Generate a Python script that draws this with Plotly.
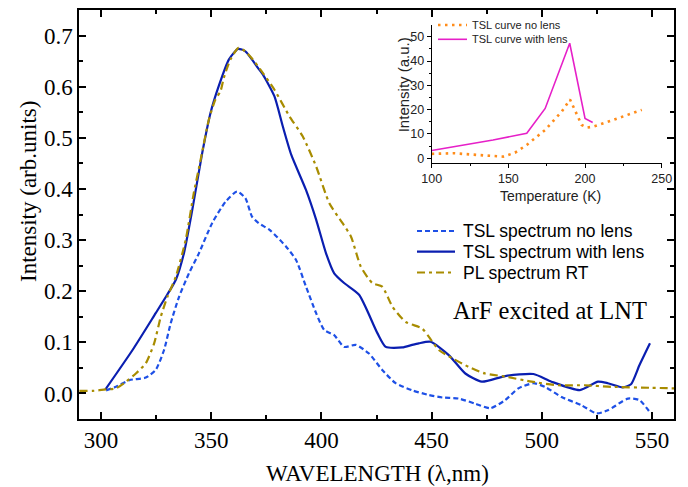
import plotly.graph_objects as go

# ---------------- main chart data ----------------
wl_nolens = [302.3, 306.8, 312.8, 320.3, 324.8, 328.6, 331.6, 335.4, 339.9, 344.4, 350.4, 356.5,
             361.7, 365.5, 368.5, 371.5, 376.5, 384.0, 388.5, 393.0, 397.6, 401.3, 405.8, 410.3,
             415.6, 421.6, 427.6, 433.7, 441.2, 448.7, 455.0, 462.3, 469.8, 476.6, 483.4, 489.4,
             496.2, 501.4, 509.0, 518.0, 524.8, 530.0, 539.1, 544.3, 548.9]
int_nolens = [0.006, 0.013, 0.026, 0.031, 0.046, 0.085, 0.137, 0.189, 0.235, 0.274, 0.333, 0.375,
              0.395, 0.382, 0.346, 0.333, 0.320, 0.287, 0.261, 0.209, 0.157, 0.124, 0.114, 0.091,
              0.095, 0.078, 0.046, 0.020, 0.006, -0.003, -0.008, -0.010, -0.020, -0.029, -0.013, 0.010,
              0.020, 0.013, -0.007, -0.023, -0.039, -0.033, -0.010, -0.013, -0.036]

wl_lens = [302.0, 314.3, 324.8, 330.0, 333.9, 337.6, 341.4, 345.9, 349.7, 353.4, 358.0, 362.2,
           365.5, 371.5, 373.4, 378.7, 382.5, 386.3, 393.0, 397.6, 402.1, 405.8, 410.3, 417.1,
           425.4, 429.2, 436.7, 441.2, 444.2, 449.5, 457.8, 465.3, 472.8, 483.4, 496.2, 504.4,
           517.3, 525.5, 530.0, 536.8, 540.5, 544.3, 549.1]
int_lens = [0.008, 0.085, 0.157, 0.193, 0.222, 0.274, 0.359, 0.470, 0.549, 0.601, 0.653, 0.674,
            0.669, 0.635, 0.624, 0.581, 0.522, 0.467, 0.398, 0.340, 0.274, 0.235, 0.216, 0.193,
            0.118, 0.091, 0.090, 0.095, 0.098, 0.101, 0.075, 0.039, 0.023, 0.034, 0.038, 0.023,
            0.0065, 0.023, 0.020, 0.012, 0.018, 0.055, 0.098]

wl_pl = [290.2, 296.2, 302.3, 306.8, 311.3, 315.8, 320.3, 324.1, 327.1, 330.1, 333.9, 338.4,
         342.1, 345.2, 348.9, 351.9, 354.2, 355.7, 358.7, 362.4, 365.5, 368.5, 373.4, 378.7,
         385.5, 391.5, 397.6, 403.6, 409.6, 413.4, 417.9, 423.1, 427.6, 432.2, 438.2, 445.7,
         448.7, 453.3, 459.3, 466.8, 474.3, 483.4, 495.4, 507.5, 519.5, 531.5, 549.6, 560.0]
int_pl = [0.005, 0.005, 0.008, 0.010, 0.023, 0.039, 0.059, 0.098, 0.150, 0.189, 0.228, 0.300,
          0.392, 0.457, 0.535, 0.575, 0.591, 0.617, 0.653, 0.676, 0.669, 0.655, 0.627, 0.594,
          0.542, 0.503, 0.444, 0.372, 0.333, 0.307, 0.248, 0.216, 0.209, 0.170, 0.140, 0.127,
          0.111, 0.085, 0.069, 0.052, 0.039, 0.033, 0.023, 0.016, 0.016, 0.013, 0.011, 0.010]

# ---------------- inset data ----------------
temp_nolens = [100, 114, 133.7, 146.7, 154.3, 162, 173.9, 184.8, 190.2, 194.6, 197.8, 201, 205.4, 218.5, 237]
tsl_nolens = [1.8, 2.1, 1.2, 0.7, 2.3, 5.5, 11.6, 19.2, 24.2, 18.5, 13.7, 12.6, 13.0, 15.8, 19.9]
temp_lens = [100, 140, 162, 174, 190, 200, 205]
tsl_lens = [3.2, 7.5, 10.3, 20.5, 47.3, 16.4, 14.7]

main_x_ticks = [300, 350, 400, 450, 500, 550]
main_y_ticks = [0.0, 0.1, 0.2, 0.3, 0.4, 0.5, 0.6, 0.7]
inset_x_ticks = [100, 150, 200, 250]
inset_y_ticks = [0, 10, 20, 30, 40, 50]

names = ["TSL spectrum no lens", "TSL spectrum with lens", "PL spectrum RT"]
inset_names = ["TSL curve no lens", "TSL curve with lens"]

C_DASH = "#1E50E6"
C_SOLID = "#0A1EB0"
C_OLIVE = "#A88C00"
C_MAG = "#E620C8"
C_ORG = "#FF8C1A"

DASH_MAIN = "5px,3px"
DASHDOT = "8px,4px,3px,4px"
DOT = "2.5px,4.5px"

SERIF = "Liberation Serif"
SANS = "Liberation Sans"

# page body has an 8px margin; the figure is sized so it fills the 688x487 window
PAGE_OFF = 8
W, H = 688 - PAGE_OFF, 487 - PAGE_OFF
# plot frame in window pixels: left 79, right 674, top 10, bottom 419
FL, FR, FT, FB = 79, 674, 10, 419
ML, MR, MT, MB = FL - PAGE_OFF, 688 - FR, FT - PAGE_OFF, 487 - FB


def px(x):
    """window pixel x -> paper x"""
    return (x - FL) / (FR - FL)


def py(y):
    """window pixel y -> paper y"""
    return (FB - y) / (FB - FT)


fig = go.Figure()
fig.add_trace(go.Scatter(x=wl_nolens, y=int_nolens, mode="lines", name=names[0],
                         line=dict(color=C_DASH, width=2.2, dash=DASH_MAIN, shape="spline", smoothing=0.6)))
fig.add_trace(go.Scatter(x=wl_lens, y=int_lens, mode="lines", name=names[1],
                         line=dict(color=C_SOLID, width=2.2, shape="spline", smoothing=0.6)))
fig.add_trace(go.Scatter(x=wl_pl, y=int_pl, mode="lines", name=names[2],
                         line=dict(color=C_OLIVE, width=2.2, dash=DASHDOT, shape="spline", smoothing=0.6)))
fig.add_trace(go.Scatter(x=temp_nolens, y=tsl_nolens, mode="lines", name=inset_names[0],
                         xaxis="x2", yaxis="y2",
                         line=dict(color=C_ORG, width=2.6, dash=DOT)))
fig.add_trace(go.Scatter(x=temp_lens, y=tsl_lens, mode="lines", name=inset_names[1],
                         xaxis="x2", yaxis="y2",
                         line=dict(color=C_MAG, width=1.6)))

main_axis = dict(showline=True, linecolor="black", linewidth=1.5, mirror="ticks",
                 ticks="inside", ticklen=7, tickwidth=1.5, tickcolor="black",
                 showgrid=False, zeroline=False, automargin=False,
                 tickfont=dict(family=SERIF, size=23, color="black"))

fig.update_layout(
    width=W, height=H,
    margin=dict(l=ML, r=MR, t=MT, b=MB, autoexpand=False),
    paper_bgcolor="white", plot_bgcolor="white",
    showlegend=False,
    xaxis=dict(main_axis, range=[290, 560], tickvals=main_x_ticks, domain=[0, 1],
               minor=dict(dtick=25, tick0=300, ticks="inside", ticklen=4, tickwidth=1.5, tickcolor="black")),
    yaxis=dict(main_axis, range=[-0.05, 0.75], tickvals=main_y_ticks, tickformat=".1f", domain=[0, 1],
               minor=dict(dtick=0.05, tick0=0, ticks="inside", ticklen=4, tickwidth=1.5, tickcolor="black")),
    xaxis2=dict(domain=[px(431.7), px(661.7)], anchor="y2", range=[100, 250], tickvals=inset_x_ticks,
                showline=True, linecolor="black", linewidth=1, mirror=False, automargin=False,
                ticks="outside", ticklen=4, tickwidth=1, tickcolor="black",
                minor=dict(dtick=25, tick0=100, ticks="outside", ticklen=2, tickwidth=1, tickcolor="black"),
                showgrid=False, zeroline=False,
                tickfont=dict(family=SANS, size=12.5, color="#222")),
    yaxis2=dict(domain=[py(163.3), py(25)], anchor="x2", range=[-2.06, 54.8], tickvals=inset_y_ticks,
                showline=True, linecolor="black", linewidth=1, mirror=False, automargin=False,
                ticks="outside", ticklen=4, tickwidth=1, tickcolor="black",
                minor=dict(dtick=5, tick0=0, ticks="outside", ticklen=2, tickwidth=1, tickcolor="black"),
                showgrid=False, zeroline=False,
                tickfont=dict(family=SANS, size=12.5, color="#222")),
)

ann = []
ann.append(dict(x=px(28), y=py(192), text="Intensity (arb.units)", textangle=-90,
                font=dict(family=SERIF, size=23, color="black")))
ann.append(dict(x=px(377), y=py(473), text="WAVELENGTH (λ,nm)",
                font=dict(family=SERIF, size=23, color="black")))
ann.append(dict(x=px(451), y=py(310.5), text="ArF excited at LNT", xanchor="left",
                font=dict(family=SERIF, size=24.5, color="black")))
ann.append(dict(x=px(550.7), y=py(195.7), text="Temperature (K)",
                font=dict(family=SANS, size=14, color="#222")))
ann.append(dict(x=px(403.3), y=py(85), text="Intensity (a.u.)", textangle=-90,
                font=dict(family=SANS, size=15, color="#222")))

legend_rows = [231, 251.7, 272.5]
legend_styles = [(C_DASH, DASH_MAIN, 2.2), (C_SOLID, "solid", 2.2), (C_OLIVE, DASHDOT, 2.2)]
shapes = []
for name, yy, (col, dsh, lw) in zip(names, legend_rows, legend_styles):
    shapes.append(dict(type="line", xref="paper", yref="paper", x0=px(417), x1=px(455), y0=py(yy), y1=py(yy),
                       line=dict(color=col, width=lw, dash=dsh)))
    ann.append(dict(x=px(461), y=py(yy), text=name, xanchor="left",
                    font=dict(family=SANS, size=17.5, color="black")))

inset_rows = [25, 39.3]
inset_styles = [(C_ORG, DOT, 2.6), (C_MAG, "solid", 1.6)]
for name, yy, (col, dsh, lw) in zip(inset_names, inset_rows, inset_styles):
    shapes.append(dict(type="line", xref="paper", yref="paper", x0=px(438), x1=px(467), y0=py(yy), y1=py(yy),
                       line=dict(color=col, width=lw, dash=dsh)))
    ann.append(dict(x=px(470), y=py(yy), text=name, xanchor="left",
                    font=dict(family=SANS, size=11, color="#222")))

for a in ann:
    a.setdefault("xref", "paper")
    a.setdefault("yref", "paper")
    a.setdefault("showarrow", False)
    a.setdefault("xanchor", "center")
    a.setdefault("yanchor", "middle")

fig.update_layout(annotations=ann, shapes=shapes)
fig.write_html("out.html")
